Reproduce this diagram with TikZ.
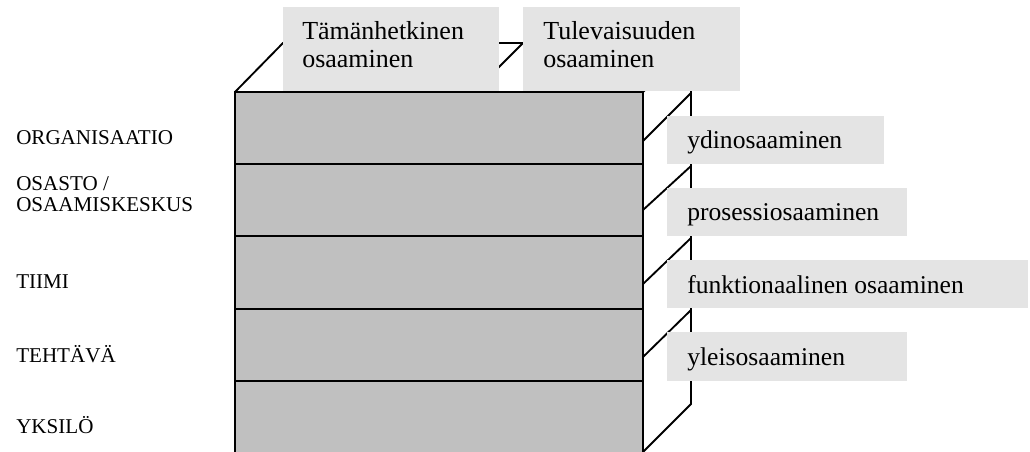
\documentclass[tikz,border=0pt]{standalone}
\usepackage{fontspec}
\setmainfont{Liberation Serif}
\definecolor{rowfill}{RGB}{192,192,192}
\definecolor{tagfill}{RGB}{228,228,228}
\begin{document}
\begin{tikzpicture}[x=0.75pt,y=-0.75pt,
  edge/.style={line width=1.4pt},
  rowbox/.style={edge, fill=rowfill},
  tagbox/.style={fill=tagfill},
  tagtext/.style={anchor=base west, inner sep=0pt, font=\fontsize{19.2}{21}\selectfont},
  toptext/.style={anchor=base west, inner sep=0pt, align=left, font=\fontsize{19.5}{21}\selectfont},
  leveltext/.style={anchor=base west, inner sep=0pt, align=left, font=\fontsize{15.8}{16.5}\selectfont}]
\useasboundingbox (0,0) rectangle (1030,452);

% depth outline of the block
\coordinate (ftl) at (235,92);
\coordinate (btl) at (283,43);
\coordinate (btr) at (691,43);
\coordinate (ftr) at (643,92);
\coordinate (mid) at (475,91);
\coordinate (midb) at (523,43);
\coordinate (bbr) at (691,404);
\coordinate (fbr) at (643,452);
\draw[edge] (ftl) -- (btl) -- (btr) -- (bbr) -- (fbr);
\draw[edge] (ftr) -- (btr);
\draw[edge] (mid) -- (midb);
\foreach \f/\b in {141/93, 210/166, 284/238, 357/310}
  \draw[edge] (643,\f) -- (691,\b);

% top headings (anchored on the baseline of their last line)
\fill[tagbox] (283,7) rectangle (499,91);
\node[toptext] (now) at (302,68) {Tämänhetkinen\\osaaminen};
\fill[tagbox] (523,7) rectangle (740,91);
\node[toptext] (future) at (543,68) {Tulevaisuuden\\osaaminen};

% side tags
\fill[tagbox] (667,116) rectangle (884,164);
\node[tagtext] (core) at (687,149) {ydinosaaminen};
\fill[tagbox] (667,188) rectangle (907,236);
\node[tagtext] (proc) at (687,220) {prosessiosaaminen};
\fill[tagbox] (667,260) rectangle (1028,308);
\node[tagtext] (func) at (687,293) {funktionaalinen osaaminen};
\fill[tagbox] (667,332) rectangle (907,381);
\node[tagtext] (gen) at (687,365) {yleisosaaminen};

% front face, one band per level
\draw[rowbox] (235,92) rectangle (643,164);
\draw[rowbox] (235,164) rectangle (643,236);
\draw[rowbox] (235,236) rectangle (643,309);
\draw[rowbox] (235,309) rectangle (643,381);
\draw[rowbox] (235,381) rectangle (643,456);

% level names
\node[leveltext] (org) at (16,145) {ORGANISAATIO};
\node[leveltext] (dept) at (16,212) {OSASTO /\\OSAAMISKESKUS};
\node[leveltext] (team) at (16,288) {TIIMI};
\node[leveltext] (task) at (16,362) {TEHTÄVÄ};
\node[leveltext] (indiv) at (16,433) {YKSILÖ};
\end{tikzpicture}
\end{document}
